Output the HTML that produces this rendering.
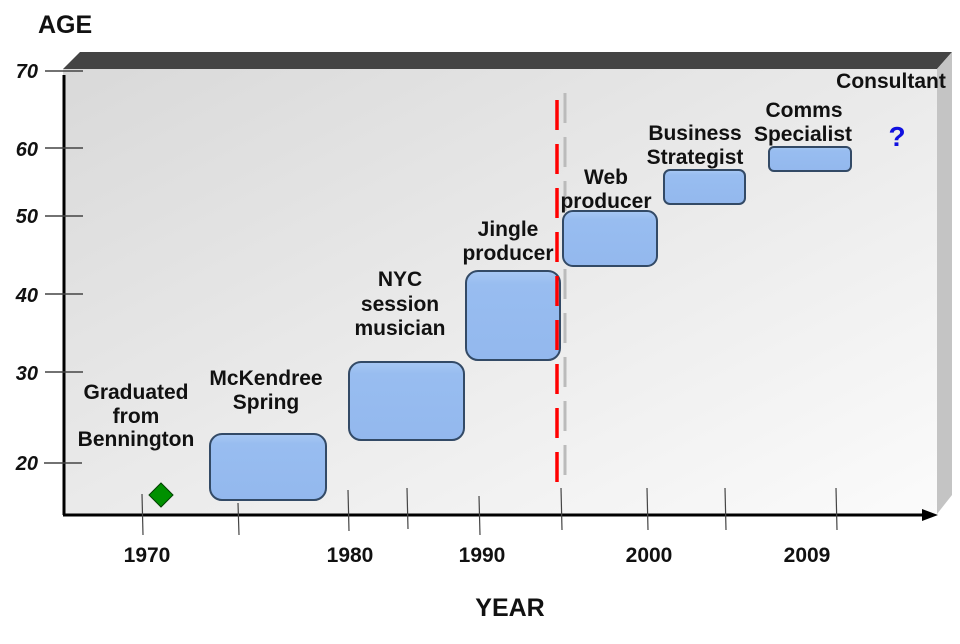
<!DOCTYPE html>
<html><head><meta charset="utf-8"><style>
body{margin:0;background:#fff}
svg text{font-family:"Liberation Sans",sans-serif;font-weight:bold}
</style></head><body>
<svg width="960" height="639" xmlns="http://www.w3.org/2000/svg">
<defs>
<linearGradient id="bg" x1="0" y1="0" x2="1" y2="1">
<stop offset="0" stop-color="#d9d9d9"/><stop offset="1" stop-color="#fbfbfb"/></linearGradient>
<linearGradient id="bx" x1="0" y1="0" x2="0" y2="1">
<stop offset="0" stop-color="#a8c8f4"/><stop offset="0.15" stop-color="#98bdf0"/><stop offset="1" stop-color="#93b8ee"/></linearGradient>
</defs>
<rect x="63" y="69" width="874" height="446" fill="url(#bg)"/>
<polygon points="63,69 80,52 952,52 937,69" fill="#444"/>
<polygon points="937,69 952,52 952,495 937,514" fill="#c4c4c4"/>
<line x1="64" y1="75" x2="64" y2="515" stroke="#000" stroke-width="3"/>
<line x1="63" y1="515" x2="925" y2="515" stroke="#000" stroke-width="3"/>
<polygon points="922,509 938,515 922,521" fill="#000"/>
<g stroke="#444" stroke-width="1.5">
<line x1="45" y1="71" x2="83" y2="71"/><line x1="45" y1="148" x2="83" y2="148"/>
<line x1="45" y1="216" x2="83" y2="216"/><line x1="45" y1="294" x2="83" y2="294"/>
<line x1="45" y1="372" x2="83" y2="372"/><line x1="44" y1="463" x2="82" y2="463"/>
</g>
<g font-size="20" font-style="italic" fill="#111" text-anchor="end">
<text x="38" y="78">70</text><text x="38" y="156">60</text><text x="38" y="223">50</text>
<text x="38" y="302">40</text><text x="38" y="380">30</text><text x="38" y="470">20</text>
</g>
<g stroke="#444" stroke-width="1.2">
<line x1="142" y1="494" x2="143" y2="535"/><line x1="238" y1="503" x2="239" y2="535"/>
<line x1="348" y1="490" x2="349" y2="531"/><line x1="407" y1="488" x2="408" y2="529"/>
<line x1="479" y1="496" x2="480" y2="535"/><line x1="561" y1="488" x2="562" y2="530"/>
<line x1="647" y1="488" x2="648" y2="530"/><line x1="725" y1="488" x2="726" y2="530"/>
<line x1="836" y1="488" x2="837" y2="530"/>
</g>
<g font-size="21" fill="#111" text-anchor="middle">
<text x="147" y="562">1970</text><text x="350" y="562">1980</text><text x="482" y="562">1990</text>
<text x="649" y="562">2000</text><text x="807" y="562">2009</text>
</g>
<text x="38" y="33" font-size="25" fill="#111">AGE</text>
<text x="510" y="616" font-size="25" fill="#111" text-anchor="middle">YEAR</text>
<line x1="565" y1="93" x2="565" y2="478" stroke="#bbb" stroke-width="3" stroke-dasharray="30,14"/>
<g fill="url(#bx)" stroke="#334a66" stroke-width="2">
<rect x="210" y="434" width="116" height="66" rx="12"/>
<rect x="349" y="362" width="115" height="78" rx="12"/>
<rect x="466" y="271" width="94" height="89" rx="12"/>
<rect x="563" y="211" width="94" height="55" rx="10"/>
<rect x="664" y="170" width="81" height="34" rx="6"/>
<rect x="769" y="147" width="82" height="24" rx="5"/>
</g>
<line x1="557" y1="100" x2="557" y2="486" stroke="#f00" stroke-width="3.5" stroke-dasharray="30,14"/>
<polygon points="161,483 173,495 161,507 149,495" fill="#009000" stroke="#004000" stroke-width="1"/>
<g font-size="21" fill="#111" text-anchor="middle">
<text x="136" y="399">Graduated</text><text x="136" y="423">from</text><text x="136" y="446">Bennington</text>
<text x="266" y="385">McKendree</text><text x="266" y="409">Spring</text>
<text x="400" y="286">NYC</text><text x="400" y="311">session</text><text x="400" y="335">musician</text>
<text x="508" y="236">Jingle</text><text x="508" y="260">producer</text>
<text x="606" y="184">Web</text><text x="606" y="208">producer</text>
<text x="695" y="140">Business</text><text x="695" y="164">Strategist</text>
<text x="804" y="117">Comms</text><text x="803" y="141">Specialist</text>
<text x="891" y="88">Consultant</text>
</g>
<text x="897" y="146" font-size="28" fill="#1010e0" text-anchor="middle">?</text>
</svg>
</body></html>
